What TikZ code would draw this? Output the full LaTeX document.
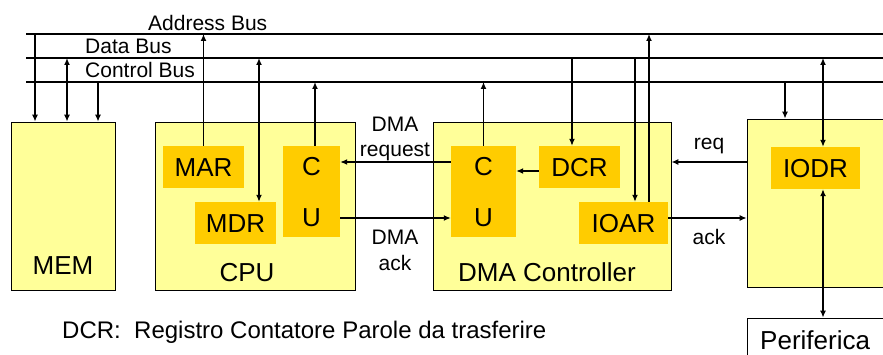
\documentclass[tikz,border=0pt]{standalone}
\usepackage{fontspec}
\setmainfont{Liberation Sans}
\usetikzlibrary{arrows.meta}
\definecolor{boxyellow}{HTML}{FFFF99}
\definecolor{regorange}{HTML}{FFCC00}
\begin{document}
\begin{tikzpicture}[x=1pt,y=-1pt,>={Latex[length=7pt,width=6pt]},
  unit/.style={draw=black,line width=0.8pt,fill=boxyellow,inner sep=0pt},
  reg/.style={fill=regorange,inner sep=0pt},
  perif/.style={draw=black,line width=0.8pt,fill=white,inner sep=0pt},
  bus/.style={line width=2.8pt},
  wire/.style={line width=1.3pt},
  big/.style={font=\fontsize{26}{31}\selectfont,inner sep=0pt,anchor=base},
  small/.style={font=\fontsize{21}{25}\selectfont,inner sep=0pt,align=center,anchor=base},
  note/.style={font=\fontsize{24}{29}\selectfont,inner sep=0pt,anchor=base west}]
\useasboundingbox (0,0) rectangle (883,355);
\clip (0,0) rectangle (883,355);

% buses
\coordinate (A) at (26,34);  \coordinate (AR) at (885,34);
\coordinate (D) at (26,58);  \coordinate (DR) at (885,58);
\coordinate (C) at (26,82);  \coordinate (CR) at (885,82);
\draw[bus] (A) -- (AR);
\draw[bus] (D) -- (DR);
\draw[bus] (C) -- (CR);
\node[small,anchor=base west] (albl) at (148,31) {Address Bus};
\node[small,anchor=base west] (dlbl) at (85,54) {Data Bus};
\node[small,anchor=base west] (clbl) at (85,78) {Control Bus};

% units
\node[unit,minimum width=104,minimum height=168] (mem) at (63,206) {};
\node[unit,minimum width=200,minimum height=168] (cpu) at (255,206) {};
\node[unit,minimum width=238,minimum height=168] (dma) at (552,206) {};
\node[unit,minimum width=150,minimum height=168] (io) at (822,203) {};
\node[perif,minimum width=150,minimum height=60] (per) at (822,348) {};

\node[big] (memt) at (63,274) {MEM};
\node[big] (cput) at (247,282) {CPU};
\node[big] (dmat) at (547,282) {DMA Controller};
\node[big,anchor=base west] (pert) at (760,349) {Periferica};

% registers
\node[reg,minimum width=81,minimum height=42] (mar) at (203.5,167) {};
\node[reg,minimum width=81,minimum height=42] (mdr) at (235.5,223) {};
\node[reg,minimum width=57,minimum height=91] (cu1) at (311.5,191.5) {};
\node[reg,minimum width=65,minimum height=91] (cu2) at (483.5,191.5) {};
\node[reg,minimum width=81,minimum height=42] (dcr) at (579.5,167) {};
\node[reg,minimum width=89,minimum height=42] (ioar) at (623.5,223) {};
\node[reg,minimum width=89,minimum height=42] (iodr) at (815.5,168) {};

\node[big] (mart) at (203.5,177) {MAR};
\node[big] (mdrt) at (235.5,233) {MDR};
\node[big] (c1) at (311.5,176) {C};
\node[big] (u1) at (311.5,227) {U};
\node[big] (c2) at (483.5,176) {C};
\node[big] (u2) at (483.5,227) {U};
\node[big] (dcrt) at (579.5,177) {DCR};
\node[big] (ioart) at (623.5,233) {IOAR};
\node[big] (iodrt) at (815.5,178) {IODR};

% memory connections
\draw[wire,->] (35,0 |- A) -- (35,0 |- mem.north);
\draw[wire,<->] (67,0 |- D) -- (67,0 |- mem.north);
\draw[wire,->] (98,0 |- C) -- (98,0 |- mem.north);

% cpu connections
\draw[wire,->] (mar.north) -- (mar.north |- A);
\draw[wire,<->] (259,0 |- D) -- (259,0 |- mdr.north);
\draw[wire,->] (315,0 |- cu1.north) -- (315,0 |- C);

% dma request / ack
\draw[wire,->] (0,162 -| cu2.west) -- (0,162 -| cu1.east);
\draw[wire,->] (0,218 -| cu1.east) -- (0,218 -| cu2.west);
\node[small] (dreq) at (395,157) {DMA\\request};
\node[small] (dack) at (395,270) {DMA\\ack};

% dma controller connections
\draw[wire,->] (cu2.north) -- (cu2.north |- C);
\draw[wire,->] (572,0 |- D) -- (572,0 |- dcr.north);
\draw[wire,->] (0,171 -| dcr.west) -- (0,171 -| cu2.east);
\draw[wire,->] (635,0 |- D) -- (635,0 |- ioar.north);
\draw[wire,->] (649,0 |- ioar.north) -- (649,0 |- A);

% req / ack
\draw[wire,->] (0,162 -| io.west) -- (0,162 -| dma.east);
\draw[wire,->] (0,218 -| ioar.east) -- (0,218 -| io.west);
\node[small] (reqt) at (709,150) {req};
\node[small] (ackt) at (709,245) {ack};

% io connections
\draw[wire,->] (785,0 |- C) -- (785,0 |- io.north);
\draw[wire,<->] (823,0 |- D) -- (823,0 |- iodr.north);
\draw[wire,<->] (823,0 |- iodr.south) -- (823,0 |- per.north);

% note
\node[note] (note) at (62,338) {DCR:\ \ Registro Contatore Parole da trasferire};
\end{tikzpicture}
\end{document}
